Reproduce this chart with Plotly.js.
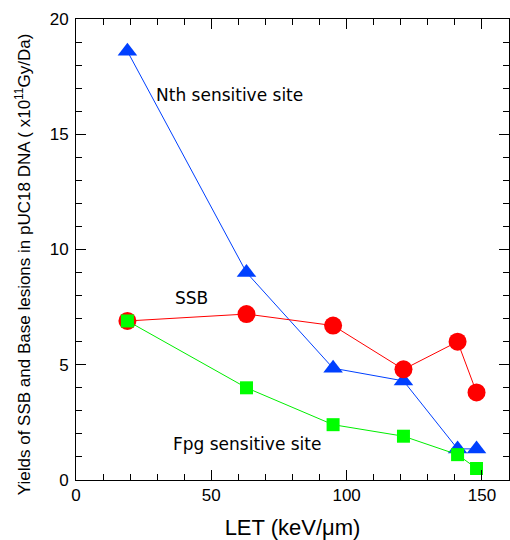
<!DOCTYPE html>
<html>
<head>
<meta charset="utf-8">
<script src="https://cdn.plot.ly/plotly-3.0.1.min.js"></script>
<style>html,body{margin:0;padding:0;background:#fff;}#chart{width:510px;height:540px;}</style>
</head>
<body>
<div id="chart"></div>
<script>
// LET values (keV/um)
const letValues = [19, 63, 95, 121, 141, 148];
const nthYields = [18.6, 9.0, 4.85, 4.3, 1.35, 1.35];
const ssbYields = [6.9, 7.2, 6.7, 4.8, 6.0, 3.8];
const fpgYields = [6.9, 4.0, 2.4, 1.9, 1.1, 0.5];
const xTicks = [0, 50, 100, 150];
const yTicks = [0, 5, 10, 15, 20];

const traces = [
  {x: letValues, y: nthYields, mode: 'lines+markers', name: 'Nth',
   line: {color: '#0040ff', width: 1},
   marker: {symbol: 'triangle-up', size: 17, color: '#0040ff'}},
  {x: letValues, y: ssbYields, mode: 'lines+markers', name: 'SSB',
   line: {color: '#ff0000', width: 1},
   marker: {symbol: 'circle', size: 18, color: '#ff0000'}},
  {x: letValues, y: fpgYields, mode: 'lines+markers', name: 'Fpg',
   line: {color: '#00ee00', width: 1},
   marker: {symbol: 'square', size: 13, color: '#00ff00'}}
];

const axisCommon = {
  showgrid: false, zeroline: false, showline: true, linecolor: '#000', linewidth: 1,
  mirror: 'ticks', ticks: 'inside', ticklen: 10, tickcolor: '#000', tickwidth: 1,
  tickfont: {family: 'Liberation Sans, Arial, sans-serif', size: 17, color: '#000'},
  minor: {ticks: 'inside', ticklen: 6, tickcolor: '#000', tickwidth: 1}
};

const layout = {
  width: 510, height: 540,
  margin: {l: 76, r: 1, t: 19, b: 60},
  paper_bgcolor: '#fff', plot_bgcolor: '#fff',
  showlegend: false,
  xaxis: Object.assign({}, axisCommon, {
    range: [0, 160], tickvals: xTicks, ticktext: xTicks.map(String),
    minor: Object.assign({}, axisCommon.minor, {dtick: 10, tick0: 0}),
    title: {text: 'LET (keV/\u03bcm)', font: {family: 'Liberation Sans, Arial, sans-serif', size: 22, color: '#000'}, standoff: 17}
  }),
  yaxis: Object.assign({}, axisCommon, {
    range: [0, 20], tickvals: yTicks, ticktext: yTicks.map(String),
    minor: Object.assign({}, axisCommon.minor, {dtick: 1, tick0: 0}),
    ticklabelstandoff: 3
  }),
  annotations: [
    {x: -0.122, y: 0.4685, xref: 'paper', yref: 'paper', textangle: -90, showarrow: false,
     xanchor: 'center', yanchor: 'middle',
     text: 'Yields of SSB and Base lesions in pUC18 DNA ( x10<sup>11</sup>Gy/Da)',
     font: {family: 'Liberation Sans, Arial, sans-serif', size: 17, color: '#000'}},
    {x: 29, y: 16.7, xref: 'x', yref: 'y', text: 'Nth sensitive site', showarrow: false, xanchor: 'left', yanchor: 'middle',
     font: {family: 'DejaVu Sans, Verdana, sans-serif', size: 17, color: '#000'}},
    {x: 36, y: 7.9, xref: 'x', yref: 'y', text: 'SSB', showarrow: false, xanchor: 'left', yanchor: 'middle',
     font: {family: 'DejaVu Sans, Verdana, sans-serif', size: 17, color: '#000'}},
    {x: 35, y: 1.55, xref: 'x', yref: 'y', text: 'Fpg sensitive site', showarrow: false, xanchor: 'left', yanchor: 'middle',
     font: {family: 'DejaVu Sans, Verdana, sans-serif', size: 17, color: '#000'}}
  ]
};

Plotly.newPlot('chart', traces, layout, {displayModeBar: false, staticPlot: true});
</script>
</body>
</html>
